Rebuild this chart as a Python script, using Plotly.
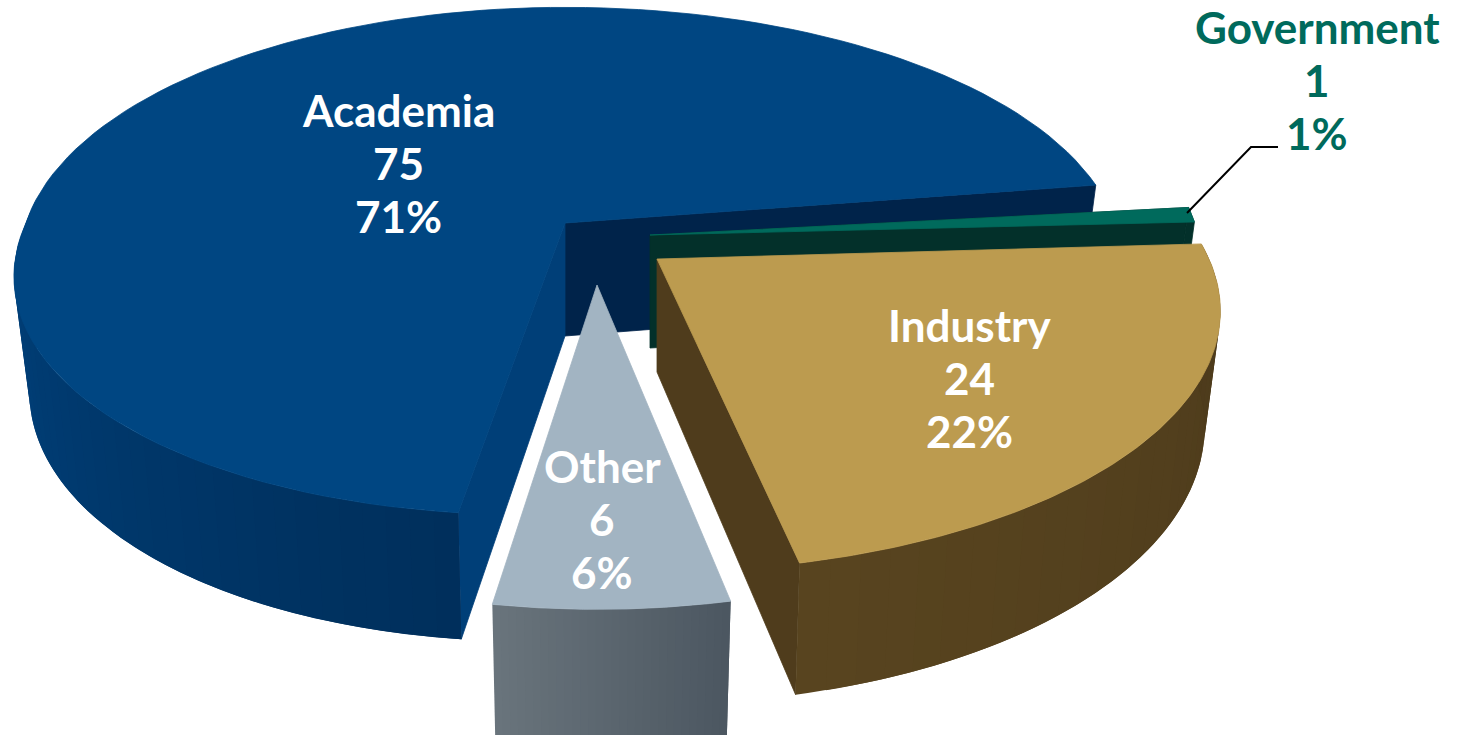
import numpy as np
import plotly.graph_objects as go

# ---- data ----
categories = ["Academia", "Government", "Industry", "Other"]
counts = [75, 1, 24, 6]
percents = [71, 1, 22, 6]

# ---- styling / geometry of the tilted, exploded pie (pixel-scaled axes) ----
W, H = 1459, 735
TOTAL = sum(counts)
HEIGHT = 113        # thickness of the disc at its centre
LOWER_SCALE = 0.972 # the lower face is further from the eye
GEOM = {
    "Academia":   dict(cx=565, cy=223, a=550, b=248, p=0.15, start=9.0, shear=32, left=0.98),
    "Government": dict(cx=650, cy=235, a=548, b=250, p=0.10, start=6.4, shear=0, left=1),
    "Industry":   dict(cx=657, cy=259, a=552, b=250, p=0.20, start=3.5, shear=0, left=1),
    "Other":      dict(cx=597, cy=285, a=528, b=253, p=0.22, start=-78.55, shear=0, left=1),
}
TOP = {"Academia": "#004682", "Government": "#006a5c", "Industry": "#bc9b4f", "Other": "#a2b4c2"}
# outer wall colour: (at the clockwise end of the slice, at the anticlockwise end)
SIDE = {
    "Academia": ("#00427e", "#002f5b"),
    "Government": ("#03302a", "#03302a"),
    "Industry": ("#4c3a1b", "#58441f"),
    "Other": ("#4b5660", "#69747c"),
}
RADIAL_FRONT = {"Academia": "#003f78", "Industry": "#4f3c1c"}
RADIAL_BACK = {"Academia": "#00234a", "Government": "#03302a"}
LABELS = {
    "Academia": (398, 163, "white"),
    "Government": (1317, 80, "#006a5c"),
    "Industry": (969, 378, "white"),
    "Other": (602, 519, "white"),
}
LABEL_FONT = "Lato"
LABEL_SIZE = 44
LINE_STEP = 53


def project(g, deg, radius=1.0):
    t = np.radians(deg)
    X, Y = radius * np.cos(t), radius * np.sin(t)
    w = 1 + g["p"] * Y
    ax = np.where(X < 0, g["a"] * g["left"], g["a"])
    x = g["cx"] + ax * X / w + g["shear"] * np.minimum(Y, 0) / w
    y = g["cy"] - g["b"] * Y / w
    return x, y, w


def lower(g, x, y, w):
    return g["cx"] + (x - g["cx"]) * LOWER_SCALE, y + HEIGHT / w ** 0.7


def mix(c1, c2, f):
    a = [int(c1[i:i + 2], 16) for i in (1, 3, 5)]
    b = [int(c2[i:i + 2], 16) for i in (1, 3, 5)]
    return "rgb(%d,%d,%d)" % tuple(round(u + (v - u) * f) for u, v in zip(a, b))


fig = go.Figure()


def poly(xs, ys, color, lw=0.8):
    fig.add_trace(go.Scatter(
        x=list(xs) + [xs[0]], y=list(ys) + [ys[0]], mode="lines", fill="toself",
        fillcolor=color, line=dict(color=color, width=lw), hoverinfo="skip", showlegend=False,
    ))


def draw_slice(name):
    g = GEOM[name]
    sweep = counts[categories.index(name)] / TOTAL * 360
    if name == "Academia":      # counter-clockwise from its right-hand edge
        t0, t1 = g["start"], g["start"] + sweep
        wall0 = 175.0
    else:                       # clockwise from its start edge
        t0, t1 = g["start"] - sweep, g["start"]
        wall0 = t0
    ts = np.linspace(t0, t1, 121)
    ax, ay, aw = g["cx"], g["cy"], 1.0
    alx, aly = lower(g, ax, ay, aw)

    # radial wall at the back (faces the viewer, behind the other slices)
    if name in RADIAL_BACK:
        edge = t0 if name == "Academia" else t1
        x, y, w = project(g, edge)
        lx, ly = lower(g, x, y, w)
        poly([ax, x, lx, alx], [ay, y, ly, aly], RADIAL_BACK[name])

    # radial wall in front
    if name in RADIAL_FRONT:
        edge = t1 if name == "Academia" else t0
        x, y, w = project(g, edge)
        lx, ly = lower(g, x, y, w)
        poly([ax, x, lx, alx], [ay, y, ly, aly], RADIAL_FRONT[name])

    # outer curved wall: overlapping bands, painted in order, so no seams show
    if name == "Government":    # flat colour: one band is enough
        seg = np.linspace(t0, t1, 8)
        x, y, w = project(g, seg)
        lx, ly = lower(g, x, y, w)
        poly(list(x) + list(lx[::-1]), list(y) + list(ly[::-1]), SIDE[name][0])
    else:
        if name == "Academia":
            ws = np.linspace(wall0, t1, 40)
            f = (ws - wall0) / (t1 - wall0)
        else:
            ws = np.linspace(t0, t1, 31)
            f = 1 - (ws - t0) / (t1 - t0)
        c_from, c_to = SIDE[name]
        for i in range(len(ws) - 1):
            seg = np.linspace(ws[i], ws[min(i + 2, len(ws) - 1)], 6)
            x, y, w = project(g, seg)
            lx, ly = lower(g, x, y, w)
            poly(list(x) + list(lx[::-1]), list(y) + list(ly[::-1]), mix(c_from, c_to, f[i]), lw=0)

    # top face
    x, y, _ = project(g, ts)
    poly([ax] + list(x), [ay] + list(y), TOP[name])


for nm in categories:
    draw_slice(nm)

for nm, n, pc in zip(categories, counts, percents):
    lx, ly, col = LABELS[nm]
    for k, line in enumerate([nm, str(n), f"{pc}%"]):
        fig.add_annotation(
            x=lx, y=ly + (k - 1) * LINE_STEP, xref="x", yref="y", showarrow=False,
            text=f"<b>{line}</b>", align="center",
            font=dict(family=LABEL_FONT, size=LABEL_SIZE, color=col),
        )

# leader line for the Government label
fig.add_shape(type="path", path="M 1187 213 L 1251 147 L 1278 147", xref="x", yref="y",
              line=dict(color="black", width=2))

fig.update_layout(
    width=W, height=H, margin=dict(l=0, r=0, t=0, b=0),
    paper_bgcolor="white", plot_bgcolor="white", showlegend=False,
    xaxis=dict(range=[0, W], visible=False, fixedrange=True),
    yaxis=dict(range=[H, 0], visible=False, fixedrange=True),
)
fig.write_html("out.html", config={"displayModeBar": False},
               post_script="document.body.style.margin='0';")
